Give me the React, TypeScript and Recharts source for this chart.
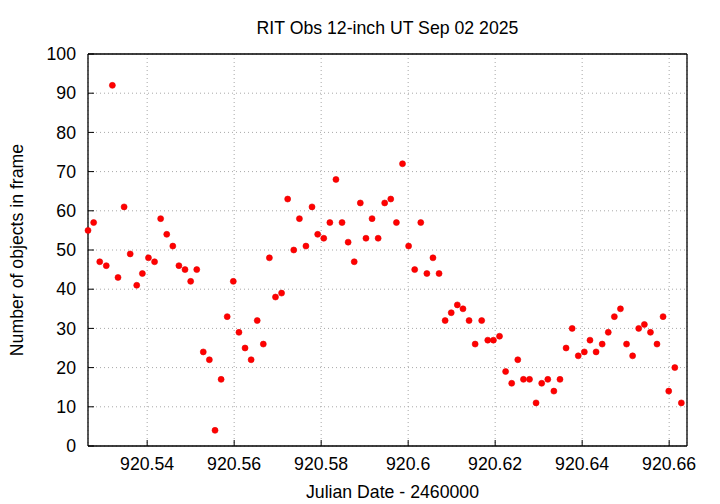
import { CartesianGrid, Scatter, ScatterChart, XAxis, YAxis } from "recharts";

// Julian Date - 2460000, one frame roughly every 2 minutes
const JD = [
  920.5264, 920.5277, 920.5291, 920.5306, 920.532, 920.5333, 920.5347, 920.5361, 920.5376, 920.5389,
  920.5403, 920.5417, 920.5431, 920.5445, 920.5459, 920.5473, 920.5487, 920.55, 920.5514, 920.5529,
  920.5543, 920.5556, 920.557, 920.5584, 920.5598, 920.5611, 920.5625, 920.5639, 920.5653, 920.5667,
  920.5681, 920.5695, 920.5709, 920.5723, 920.5737, 920.575, 920.5765, 920.5779, 920.5792, 920.5806,
  920.582, 920.5834, 920.5848, 920.5862, 920.5876, 920.589, 920.5903, 920.5917, 920.5931, 920.5946,
  920.596, 920.5973, 920.5987, 920.6001, 920.6015, 920.6029, 920.6043, 920.6057, 920.6071, 920.6085,
  920.6099, 920.6113, 920.6126, 920.614, 920.6154, 920.6169, 920.6183, 920.6196, 920.621, 920.6224,
  920.6238, 920.6252, 920.6265, 920.6279, 920.6294, 920.6307, 920.6321, 920.6335, 920.6349, 920.6363,
  920.6377, 920.6391, 920.6405, 920.6418, 920.6432, 920.6446, 920.646, 920.6474, 920.6488, 920.6502,
  920.6516, 920.653, 920.6543, 920.6557, 920.6572, 920.6586, 920.6599, 920.6613, 920.6628
];

const OBJECTS = [
  55, 57, 47, 46, 92, 43, 61, 49, 41, 44,
  48, 47, 58, 54, 51, 46, 45, 42, 45, 24,
  22, 4, 17, 33, 42, 29, 25, 22, 32, 26,
  48, 38, 39, 63, 50, 58, 51, 61, 54, 53,
  57, 68, 57, 52, 47, 62, 53, 58, 53, 62,
  63, 57, 72, 51, 45, 57, 44, 48, 44, 32,
  34, 36, 35, 32, 26, 32, 27, 27, 28, 19,
  16, 22, 17, 17, 11, 16, 17, 14, 17, 25,
  30, 23, 24, 27, 24, 26, 29, 33, 35, 26,
  23, 30, 31, 29, 26, 33, 14, 20, 11
];

const X_TICKS = [920.54, 920.56, 920.58, 920.6, 920.62, 920.64, 920.66];
const Y_TICKS = [0, 10, 20, 30, 40, 50, 60, 70, 80, 90, 100];

const X_MIN = 920.5264;
const X_MAX = 920.6641;

const FONT = 17.7;

const points = JD.map((jd, i) => ({ jd, n: OBJECTS[i] }));

function Dot(props: any) {
  const { cx, cy } = props;
  if (cx == null || cy == null) return null;
  return <circle cx={cx} cy={cy} r={3} fill="#ff0000" stroke="#e60000" strokeWidth={0.6} />;
}

export default function App() {
  const axisLine = { stroke: "#000", strokeWidth: 1.3 };
  const tickLine = { stroke: "#000", strokeWidth: 1 };
  const tickText = { fill: "#000", fontSize: FONT };

  return (
    <div
      style={{
        position: "absolute",
        left: 0,
        top: 0,
        width: 720,
        height: 504,
        background: "#fff",
        fontFamily: "'Liberation Sans', Arial, sans-serif"
      }}
    >
      <ScatterChart width={720} height={504} margin={{ top: 53, right: 32, bottom: 28, left: 0 }}>
        <CartesianGrid stroke="#a8a8a8" strokeDasharray="1 3" />
        <XAxis
          type="number"
          dataKey="jd"
          domain={[X_MIN, X_MAX]}
          ticks={X_TICKS}
          interval={0}
          tickFormatter={(v: number) => String(v)}
          height={30}
          tickSize={-6}
          tickMargin={17}
          axisLine={axisLine}
          tickLine={tickLine}
          tick={tickText}
        />
        <XAxis
          xAxisId="top"
          orientation="top"
          type="number"
          domain={[X_MIN, X_MAX]}
          ticks={X_TICKS}
          interval={0}
          height={1}
          tickSize={-6}
          axisLine={axisLine}
          tickLine={tickLine}
          tick={false}
        />
        <YAxis
          type="number"
          dataKey="n"
          domain={[0, 100]}
          ticks={Y_TICKS}
          interval={0}
          width={88}
          tickSize={-6}
          tickMargin={18}
          axisLine={axisLine}
          tickLine={tickLine}
          tick={tickText}
        />
        <YAxis
          yAxisId="right"
          orientation="right"
          type="number"
          domain={[0, 100]}
          ticks={Y_TICKS}
          interval={0}
          width={1}
          tickSize={-6}
          axisLine={axisLine}
          tickLine={tickLine}
          tick={false}
        />
        <Scatter data={points} shape={Dot} isAnimationActive={false} />
      </ScatterChart>
      <svg
        width={720}
        height={504}
        style={{ position: "absolute", left: 0, top: 0, pointerEvents: "none" }}
      >
        <text x={387.5} y={34} textAnchor="middle" fontSize={FONT} fill="#000">
          RIT Obs 12-inch UT Sep 02 2025
        </text>
        <text x={392.5} y={498} textAnchor="middle" fontSize={FONT} fill="#000">
          Julian Date - 2460000
        </text>
        <text
          x={23}
          y={250}
          textAnchor="middle"
          fontSize={FONT}
          fill="#000"
          transform="rotate(-90 23 250)"
        >
          Number of objects in frame
        </text>
      </svg>
    </div>
  );
}
